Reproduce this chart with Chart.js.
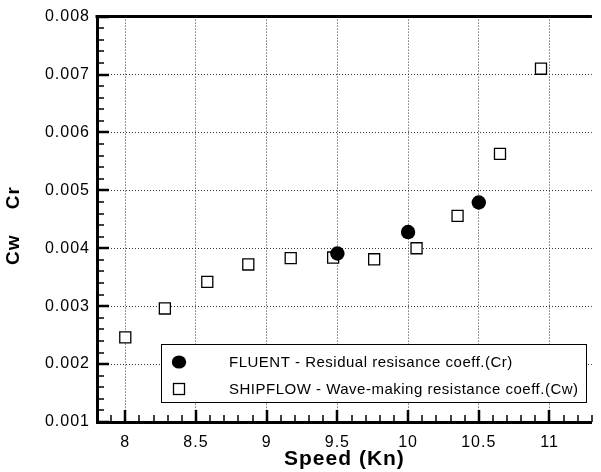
<!DOCTYPE html>
<html><head><meta charset="utf-8">
<script src="https://cdn.jsdelivr.net/npm/chart.js@4"></script>
<style>html,body{margin:0;padding:0;background:#fff;overflow:hidden;}</style>
</head><body>
<canvas id="c" width="601" height="472"></canvas>
<script>
// ---- data ----
const seriesLabels = ['FLUENT - Residual resisance coeff.(Cr)', 'SHIPFLOW - Wave-making resistance coeff.(Cw)'];
const speedCr = [9.5, 10.0, 10.5];
const cr = [0.00391, 0.00428, 0.00479];
const speedCw = [8.0, 8.28, 8.58, 8.87, 9.17, 9.47, 9.76, 10.06, 10.35, 10.65, 10.94];
const cw = [0.00246, 0.00296, 0.00342, 0.00372, 0.00383, 0.00384, 0.00381, 0.00400, 0.00456, 0.00563, 0.00710];
const xTickValues = [8, 8.5, 9, 9.5, 10, 10.5, 11];
const xTickLabels = ['8', '8.5', '9', '9.5', '10', '10.5', '11'];
const yTickValues = [0.001, 0.002, 0.003, 0.004, 0.005, 0.006, 0.007, 0.008];
const yTickLabels = ['0.001', '0.002', '0.003', '0.004', '0.005', '0.006', '0.007', '0.008'];
const xTitle = 'Speed (Kn)';
const yTitle = 'Cw    Cr  ';

const FONT = "'Liberation Sans', Arial, sans-serif";

// letter spacing applied right before each text draw (the reference text is wide-set)
const spacingPlugin = {
  id: 'spacing',
  beforeDraw(chart) {
    const ctx = chart.ctx;
    if (!ctx.__patched) {
      const orig = CanvasRenderingContext2D.prototype.fillText;
      ctx.fillText = function (t, x, y, m) {
        this.letterSpacing = this.__ls || '0px';
        return (m === undefined) ? orig.call(this, t, x, y) : orig.call(this, t, x, y, m);
      };
      ctx.__patched = true;
    }
    ctx.__ls = '1px';
  }
};

const framePlugin = {
  id: 'frame',
  beforeDatasetsDraw(chart) {
    const { ctx, chartArea: a, scales: { x, y } } = chart;
    ctx.save();
    ctx.strokeStyle = '#000';
    ctx.setLineDash([]);
    const xn = Math.round((x.max - x.min) / 0.1);
    for (let k = 0; k <= xn; k++) {
      const v = x.min + k * 0.1;
      const major = Math.abs(v * 2 - Math.round(v * 2)) < 1e-6;
      const px = Math.round(x.getPixelForValue(v));
      ctx.lineWidth = major ? 2.5 : 1.5;
      ctx.beginPath();
      ctx.moveTo(px, a.bottom);
      ctx.lineTo(px, a.bottom - (major ? 12 : 7));
      ctx.stroke();
    }
    const yn = Math.round((y.max - y.min) / 0.0002);
    for (let k = 0; k <= yn; k++) {
      const major = k % 5 === 0;
      const py = Math.round(y.getPixelForValue(y.min + k * 0.0002));
      ctx.lineWidth = major ? 2.5 : 1.5;
      ctx.beginPath();
      ctx.moveTo(a.left, py);
      ctx.lineTo(a.left + (major ? 12 : 7), py);
      ctx.stroke();
    }
    ctx.lineWidth = 3;
    ctx.beginPath();
    ctx.moveTo(a.left - 1.5, a.top);
    ctx.lineTo(a.right, a.top);
    ctx.stroke();
    ctx.restore();
  }
};

const legendPlugin = {
  id: 'boxLegend',
  afterDraw(chart) {
    const { ctx } = chart;
    const ds = chart.data.datasets;
    ctx.save();
    ctx.setLineDash([]);
    ctx.fillStyle = '#fff';
    ctx.fillRect(162, 344, 425, 58);
    ctx.strokeStyle = '#000';
    ctx.lineWidth = 1;
    ctx.strokeRect(161.5, 344.5, 425, 58);
    const rows = [362, 389];
    ds.forEach((d, i) => {
      const cy = rows[i];
      if (d.pointStyle === 'circle') {
        ctx.fillStyle = '#000';
        ctx.beginPath();
        ctx.ellipse(179, cy, 7.2, 6.6, 0, 0, Math.PI * 2);
        ctx.fill();
      } else {
        ctx.fillStyle = '#fff';
        ctx.strokeStyle = '#000';
        ctx.lineWidth = 1.3;
        ctx.fillRect(173.5, cy - 5.5, 11, 11);
        ctx.strokeRect(173.5, cy - 5.5, 11, 11);
      }
      ctx.fillStyle = '#000';
      ctx.font = '15px ' + FONT;
      ctx.__ls = '0.5px';
      ctx.textAlign = 'left';
      ctx.textBaseline = 'middle';
      ctx.fillText(d.label, 229, cy + 0.5);
    });
    ctx.__ls = '1px';
    ctx.restore();
  }
};

new Chart(document.getElementById('c'), {
  type: 'scatter',
  data: {
    datasets: [
      {
        label: seriesLabels[0],
        data: speedCr.map((v, i) => ({ x: v, y: cr[i] })),
        pointStyle: 'circle',
        pointRadius: 7.2,
        pointHoverRadius: 7.2,
        backgroundColor: '#000',
        borderColor: '#000',
        borderWidth: 0
      },
      {
        label: seriesLabels[1],
        data: speedCw.map((v, i) => ({ x: v, y: cw[i] })),
        pointStyle: 'rect',
        pointRadius: 7.8,
        pointHoverRadius: 7.8,
        backgroundColor: '#fff',
        borderColor: '#000',
        borderWidth: 1.3
      }
    ]
  },
  options: {
    responsive: false,
    animation: false,
    devicePixelRatio: 1,
    layout: { padding: { top: 15, right: 0, left: 0, bottom: 0 } },
    plugins: { legend: { display: false }, tooltip: { enabled: false } },
    scales: {
      x: {
        type: 'linear',
        min: 7.8,
        max: 11.3,
        afterBuildTicks: s => { s.ticks = xTickValues.map(v => ({ value: v })); },
        afterFit: s => { s.height = 50; },
        ticks: {
          maxRotation: 0,
          autoSkip: false,
          padding: 11,
          color: '#000',
          font: { family: FONT, size: 16 },
          callback: v => xTickLabels[xTickValues.indexOf(v)]
        },
        grid: { color: '#333', lineWidth: 1, drawTicks: false },
        border: { display: true, color: '#000', width: 3, dash: [1, 2] },
        title: {
          display: true,
          text: xTitle,
          color: '#000',
          font: { family: FONT, size: 21, weight: 'bold', lineHeight: 1.2 },
          padding: { top: 0, bottom: 0 }
        }
      },
      y: {
        type: 'linear',
        min: 0.001,
        max: 0.008,
        afterBuildTicks: s => { s.ticks = yTickValues.map(v => ({ value: v })); },
        afterFit: s => { s.width = 97; },
        ticks: {
          autoSkip: false,
          padding: 7,
          color: '#000',
          font: { family: FONT, size: 16 },
          callback: v => yTickLabels[yTickValues.findIndex(t => Math.abs(t - v) < 1e-9)]
        },
        grid: { color: '#333', lineWidth: 1, drawTicks: false },
        border: { display: true, color: '#000', width: 3, dash: [1, 2] },
        title: {
          display: true,
          text: yTitle,
          color: '#000',
          font: { family: FONT, size: 19, weight: 'bold', lineHeight: 1.2 },
          padding: { top: 2, bottom: 0 }
        }
      }
    }
  },
  plugins: [spacingPlugin, framePlugin, legendPlugin]
});
</script>
</body></html>
